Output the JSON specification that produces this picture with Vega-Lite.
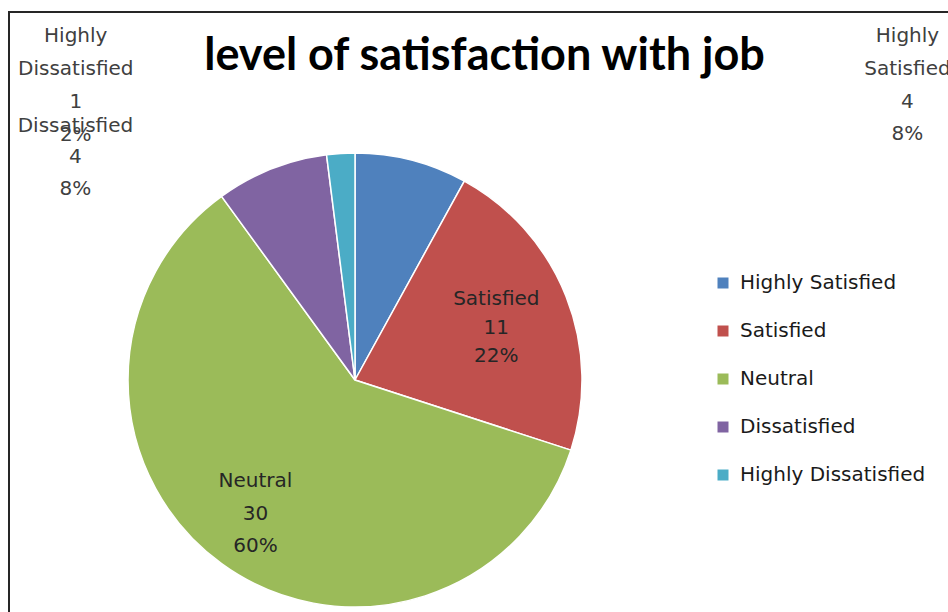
{
  "$schema": "https://vega.github.io/schema/vega-lite/v6.json",
  "autosize": {"type": "none"},
  "width": 947,
  "height": 608,
  "padding": {"left": 9, "top": 12, "right": -8, "bottom": -8},
  "background": "white",
  "config": {"view": {"stroke": null}, "font": "DejaVu Sans"},
  "title": {"text": "level of satisfaction with job", "fontSize": 45, "font": "Lato", "fontWeight": "bold", "color": "#000000", "anchor": "middle", "frame": "group", "offset": -68, "dx": 2},
  "layer": [
    {
      "data": {"values": [{}]},
      "mark": {"type": "rect", "fill": null, "stroke": "#262626", "strokeWidth": 2},
      "encoding": {}
    },
    {
      "data": {"values": [
        {"category": "Highly Satisfied", "count": 4, "pct": "8%", "rank": 1},
        {"category": "Satisfied", "count": 11, "pct": "22%", "rank": 2},
        {"category": "Neutral", "count": 30, "pct": "60%", "rank": 3},
        {"category": "Dissatisfied", "count": 4, "pct": "8%", "rank": 4},
        {"category": "Highly Dissatisfied", "count": 1, "pct": "2%", "rank": 5}
      ]},
      "encoding": {
        "theta": {"field": "count", "type": "quantitative", "stack": true},
        "order": {"field": "rank", "type": "quantitative", "sort": "ascending"}
      },
      "layer": [
        {
          "mark": {"type": "arc", "x": 346, "y": 368, "outerRadius": 227, "stroke": "white", "strokeWidth": 1.5},
          "encoding": {
            "color": {
              "field": "category", "type": "nominal",
              "scale": {"domain": ["Highly Satisfied", "Satisfied", "Neutral", "Dissatisfied", "Highly Dissatisfied"], "range": ["#4F81BD", "#C0504D", "#9BBB59", "#8064A2", "#4BACC6"]},
              "legend": {"orient": "none", "legendX": 704, "legendY": 261, "title": null, "symbolType": "square", "symbolSize": 121, "symbolStrokeWidth": 0, "labelFontSize": 20, "labelColor": "#1a1a1a", "labelFont": "DejaVu Sans", "labelLimit": 400, "rowPadding": 28, "labelOffset": 7}
            }
          }
        },
        {
          "transform": [{"calculate": "datum.category === 'Satisfied' ? datum.category + '\\n' + datum.count + '\\n' + datum.pct : ''", "as": "lab"}],
          "mark": {"type": "text", "x": 346, "y": 368, "radius": 152, "dy": -25, "fontSize": 20, "lineHeight": 28.5, "lineBreak": "\n", "color": "#262626", "baseline": "middle"},
          "encoding": {"text": {"field": "lab"}}
        },
        {
          "transform": [{"calculate": "datum.category === 'Neutral' ? datum.category + '\\n' + datum.count + '\\n' + datum.pct : ''", "as": "lab"}],
          "mark": {"type": "text", "x": 346, "y": 368, "radius": 166, "dx": -2, "dy": -33, "fontSize": 20, "lineHeight": 32.5, "lineBreak": "\n", "color": "#262626", "baseline": "middle"},
          "encoding": {"text": {"field": "lab"}}
        },
        {
          "transform": [{"calculate": "datum.category === 'Highly Satisfied' ? 'Highly\\nSatisfied\\n' + datum.count + '\\n' + datum.pct : ''", "as": "lab"}],
          "mark": {"type": "text", "x": 346, "y": 368, "radius": 227, "dx": 496, "dy": -124, "fontSize": 20, "lineHeight": 32.7, "lineBreak": "\n", "color": "#404040", "baseline": "middle"},
          "encoding": {"text": {"field": "lab"}}
        },
        {
          "transform": [{"calculate": "datum.category === 'Highly Dissatisfied' ? 'Highly\\nDissatisfied\\n' + datum.count + '\\n' + datum.pct : ''", "as": "lab"}],
          "mark": {"type": "text", "x": 346, "y": 368, "radius": 227, "dx": -265, "dy": -117, "fontSize": 20, "lineHeight": 32.7, "lineBreak": "\n", "color": "#404040", "baseline": "middle"},
          "encoding": {"text": {"field": "lab"}}
        },
        {
          "transform": [{"calculate": "datum.category === 'Dissatisfied' ? datum.category + '\\n' + datum.count + '\\n' + datum.pct : ''", "as": "lab"}],
          "mark": {"type": "text", "x": 346, "y": 368, "radius": 227, "dx": -196, "dy": -43, "fontSize": 20, "lineHeight": 31.5, "lineBreak": "\n", "color": "#404040", "baseline": "middle"},
          "encoding": {"text": {"field": "lab"}}
        }
      ]
    }
  ]
}
